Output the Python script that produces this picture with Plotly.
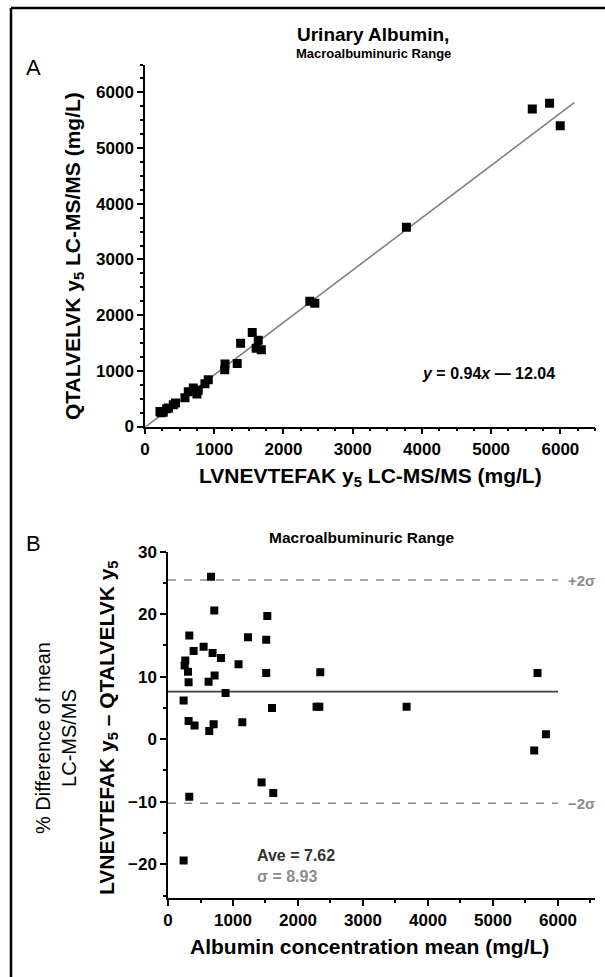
import plotly.graph_objects as go

W, H = 605, 977

# ---------------- Data ----------------
# Panel A: LVNEVTEFAK y5 (x) vs QTALVELVK y5 (y), mg/L
a_x = [5594, 5844, 5998, 3776, 2381, 2453, 1549, 1381, 1636, 1605, 1680,
       1156, 1152, 1332, 914, 866, 697, 625, 769, 750, 577, 409, 313, 264,
       216, 340, 230, 440]
a_y = [5703, 5805, 5398, 3578, 2250, 2214, 1690, 1493, 1550, 1405, 1377,
       1120, 1018, 1130, 838, 766, 692, 625, 652, 585, 515, 392, 318, 257,
       269, 330, 245, 420]
fit_slope = 0.94
fit_intercept = -12.04
fit_x_end = 6200

# Panel B: Bland-Altman, mean concentration vs % difference
b_x = [662, 712, 328, 394, 548, 686, 815, 266, 256, 308, 317, 625, 717,
       1086, 1231, 1528, 1512, 1512, 886, 240, 317, 409, 635, 702, 1143,
       1600, 2286, 2328, 2343, 3671, 1440, 1620, 328, 240, 5686, 5815, 5635]
b_y = [26.0, 20.6, 16.6, 14.1, 14.8, 13.8, 13.0, 12.6, 11.8, 10.8, 9.1,
       9.2, 10.2, 12.0, 16.3, 19.7, 15.9, 10.6, 7.4, 6.2, 2.9, 2.2, 1.3,
       2.4, 2.7, 5.0, 5.2, 5.2, 10.7, 5.2, -6.9, -8.6, -9.2, -19.4, 10.6,
       0.8, -1.8]
ave = 7.62
sigma = 8.93
line_x_end = 6000

FONT = "Liberation Sans"


def px(x):
    return x / W


def py(y):
    return 1 - y / H


fig = go.Figure()

# Panel A
fit_x = [0, fit_x_end]
fit_y = [fit_slope * v + fit_intercept for v in fit_x]
fig.add_trace(go.Scatter(
    x=fit_x, y=fit_y, mode="lines", line=dict(color="#808080", width=1.6),
    xaxis="x", yaxis="y", showlegend=False, hoverinfo="skip"))
fig.add_trace(go.Scatter(
    x=a_x, y=a_y, mode="markers",
    marker=dict(symbol="square", size=9, color="black"),
    xaxis="x", yaxis="y", showlegend=False))

# Panel B lines
upper = ave + 2 * sigma
lower = ave - 2 * sigma
for yv in (upper, lower):
    fig.add_trace(go.Scatter(
        x=[0, line_x_end], y=[yv, yv], mode="lines",
        line=dict(color="#8c8c8c", width=1.6, dash="8px,8px"),
        xaxis="x2", yaxis="y2", showlegend=False, hoverinfo="skip"))
fig.add_trace(go.Scatter(
    x=[0, line_x_end], y=[ave, ave], mode="lines",
    line=dict(color="#404040", width=1.8),
    xaxis="x2", yaxis="y2", showlegend=False, hoverinfo="skip"))
fig.add_trace(go.Scatter(
    x=b_x, y=b_y, mode="markers",
    marker=dict(symbol="square", size=8, color="black"),
    xaxis="x2", yaxis="y2", showlegend=False))

tickfont = dict(family=FONT, size=17, color="black", weight="bold")


def axis_common(**kw):
    d = dict(showline=True, linecolor="black", linewidth=1.5,
             ticks="outside", ticklen=6, tickwidth=1.5, tickcolor="black",
             showgrid=False, zeroline=False, tickfont=tickfont,
             automargin=False, fixedrange=True)
    d.update(kw)
    return d


def minor(step):
    return dict(dtick=step, ticklen=3, tickwidth=1.5, ticks="outside",
                tickcolor="black")


fig.update_layout(
    width=W, height=H,
    margin=dict(l=0, r=0, t=0, b=0),
    template="none",
    paper_bgcolor="white", plot_bgcolor="white",
    font=dict(family=FONT, color="black", size=14),
    xaxis=axis_common(domain=[px(145), px(595)], range=[0, 6500],
                      anchor="y", tick0=0, dtick=1000, minor=minor(250)),
    yaxis=axis_common(domain=[py(426.5), py(64.5)], range=[0, 6500],
                      anchor="x", tick0=0, dtick=1000, minor=minor(250)),
    xaxis2=axis_common(domain=[px(168), px(595)], range=[0, 6570],
                       anchor="y2", tick0=0, dtick=1000, minor=minor(500)),
    yaxis2=axis_common(domain=[py(898), py(551.7)], range=[-25.4, 30],
                       anchor="x2", tick0=0, dtick=10, minor=minor(5)),
)


def ann(text, x, y, size, color="black", bold=True, angle=0,
        xanchor="center", yanchor="middle", align="center"):
    fig.add_annotation(
        text=text, x=px(x), y=py(y), xref="paper", yref="paper",
        showarrow=False, textangle=angle, xanchor=xanchor, yanchor=yanchor,
        align=align,
        font=dict(family=FONT, size=size, color=color,
                  weight="bold" if bold else "normal"))


# Titles
ann("Urinary Albumin,", 373, 35, 19)
ann("Macroalbuminuric Range", 373, 53, 13)
ann("Macroalbuminuric Range", 362, 537, 15.5)

# Panel letters
ann("A", 33, 68, 22, bold=False)
ann("B", 33, 543, 22, bold=False)

# Axis titles
ann("LVNEVTEFAK y<sub>5</sub> LC-MS/MS (mg/L)", 370, 477, 21)
ann("QTALVELVK y<sub>5</sub> LC-MS/MS (mg/L)", 74, 256, 21, angle=-90)
ann("Albumin concentration mean (mg/L)", 369, 946, 21)
ann("% Difference of mean<br>LC-MS/MS", 56, 738, 20, bold=False, angle=-90)
ann("LVNEVTEFAK y<sub>5</sub> \u2013 QTALVELVK y<sub>5</sub>", 108, 728, 21,
    angle=-90)

# In-plot texts
ann("<i>y</i> = %.2f<i>x</i> \u2014 %.2f" % (fit_slope, abs(fit_intercept)),
    488, 373, 16)
ann("Ave = %.2f" % ave, 255, 855, 16, color="#333333", xanchor="left")
ann("\u03c3 = %.2f" % sigma, 255, 876, 16, color="#8c8c8c", xanchor="left")
ann("+2\u03c3", 581, 580, 15, color="#8c8c8c")
ann("\u22122\u03c3", 581, 803, 15, color="#8c8c8c")

# Frame (left and top border)
fig.add_shape(type="line", xref="paper", yref="paper",
              x0=px(11), x1=px(11), y0=0, y1=py(8),
              line=dict(color="black", width=2.5))
fig.add_shape(type="line", xref="paper", yref="paper",
              x0=px(11), x1=1, y0=py(8), y1=py(8),
              line=dict(color="black", width=2.5))

fig.write_html("out.html")
